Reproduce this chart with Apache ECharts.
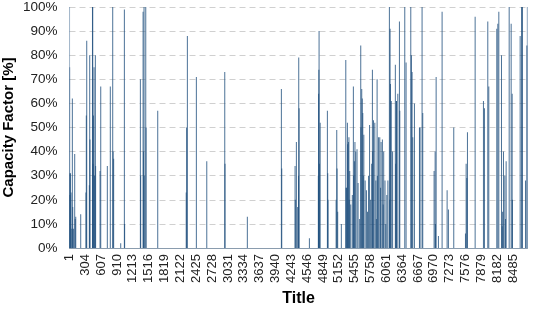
<!DOCTYPE html>
<html>
<head>
<meta charset="utf-8">
<script src="https://cdn.jsdelivr.net/npm/echarts@6/dist/echarts.min.js"></script>
<style>html,body{margin:0;padding:0;background:#fff}#c{width:533px;height:309px}</style>
</head>
<body>
<div id="c"></div>
<script>
// Hours of the year with non-zero capacity factor (all other hours are 0%)
const hoursActive = [
  1,3,6,10,20,30,45,55,62,75,100,110,120,
  215,315,322,330,380,387,392,440,445,450,458,470,478,495,500,585,598,
  724,781,827,835,845,980,1050,1055,
  1356,1362,1408,1415,1426,1430,1459,1465,1688,
  2233,2240,2255,2427,2626,2970,2975,3402,
  4053,4060,4315,4320,4340,4365,4380,4385,4392,4589,
  4760,4765,4770,4774,4780,4795,4933,4940,4945,
  5100,5112,5118,5130,5200,5285,5290,5300,5316,5320,5335,5345,5350,5360,5380,5410,
  5430,5435,5450,5460,5475,5500,5520,5550,5571,5575,5590,5600,5610,5620,5630,5655,
  5680,5700,5720,5740,5760,5780,5794,5800,5815,5840,5860,5870,5884,5890,5910,5935,
  5950,5960,5985,6000,6010,6035,6050,6070,6090,6119,6125,6132,6140,6155,6180,6233,6240,6255,
  6250,6280,6311,6318,6413,6438,6528,6540,6553,6566,6598,6694,6706,6744,6757,
  6974,6994,7000,7013,7057,7127,7223,7248,7350,
  7574,7587,7600,7612,7759,7918,7937,8001,8020,8173,8193,8212,
  8263,8276,8285,8301,8327,8340,8352,8410,8448,8467,8472,8620,8646,8665,8722,8748,8758
];
const capacityFactor = [
  100,75,31,22,31,23,8,62,17,8,39,12,13,
  14,23,55,86,26,80,45,100,100,35,55,75,30,80,34,32,67,
  34,67,100,40,37,2,99,10,
  70,30,98,40,100,30,100,50,57,
  23,50,88,71,36,73,35,13,
  66,33,34,20,44,17,30,79,58,4,
  30,64,74,90,35,52,57,31,20,
  20,49,33,15,10,78,25,25,52,43,44,46,20,32,18,22,
  67,30,36,44,40,41,27,12,84,50,66,62,56,30,47,28,
  24,15,30,51,20,35,74,40,53,52,28,12,70,30,46,46,
  25,44,45,18,40,28,10,22,28,100,20,91,68,61,40,76,35,61,
  61,64,94,57,100,77,100,80,73,46,60,50,50,100,56,
  32,40,10,71,5,98,24,16,50,
  6,35,29,48,96,61,58,94,67,91,93,98,
  80,9,15,40,30,12,36,100,93,64,20,88,100,100,28,84,100
];
const hourCount = 8760;
const categories = [];
for (let i = 1; i <= hourCount; i++) categories.push(String(i));
const values = new Array(hourCount).fill(0);
hoursActive.forEach((h, i) => { values[h - 1] = capacityFactor[i]; });

const chart = echarts.init(document.getElementById('c'), null, {renderer: 'canvas'});
chart.setOption({
  animation: false,
  grid: {left: 69.5, right: 5.5, top: 7, bottom: 61, containLabel: false, outerBoundsMode: 'none'},
  xAxis: {
    type: 'category',
    data: categories,
    name: 'Title',
    nameLocation: 'middle',
    nameGap: 43,
    nameTextStyle: {fontFamily: 'Liberation Sans', fontWeight: 'bold', fontSize: 16, color: '#000'},
    axisLine: {lineStyle: {color: '#8a9cae', width: 1}},
    axisTick: {show: false},
    axisLabel: {interval: 302, rotate: 90, fontFamily: 'Liberation Sans', fontSize: 13, color: '#222', margin: 6}
  },
  yAxis: {
    type: 'value',
    min: 0, max: 100, interval: 10,
    name: 'Capacity Factor [%]',
    nameLocation: 'middle',
    nameGap: 53,
    nameMoveOverlap: false,
    nameTextStyle: {fontFamily: 'Liberation Sans', fontWeight: 'bold', fontSize: 15, color: '#000'},
    axisLine: {show: false},
    axisTick: {show: false},
    axisLabel: {formatter: '{value}%', fontFamily: 'Liberation Sans', fontSize: 13.5, color: '#222', margin: 12},
    splitLine: {lineStyle: {color: '#d0d0d0', type: [6, 4], width: 1}}
  },
  series: [{
    type: 'bar',
    data: values,
    barWidth: 1,
    barGap: '0%',
    itemStyle: {color: '#1f4f7d', opacity: 0.8}
  }]
});
</script>
</body>
</html>
